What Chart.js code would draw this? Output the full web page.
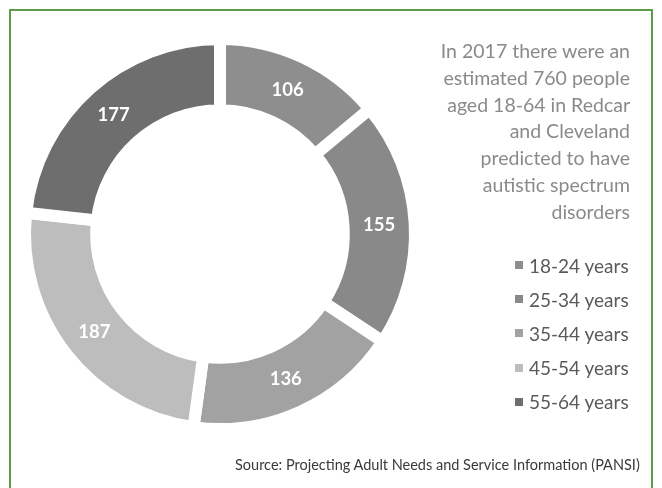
<!DOCTYPE html>
<html>
<head>
<meta charset="utf-8">
<script src="https://cdn.jsdelivr.net/npm/chart.js@4/dist/chart.umd.min.js"></script>
<style>
  html, body { margin: 0; padding: 0; background: #fff; }
  #wrap { position: relative; width: 662px; height: 488px; overflow: hidden; font-family: Lato, "Open Sans", sans-serif; }
  #frame { position: absolute; left: 9px; top: 9px; width: 644px; height: 482px; border: 2px solid #5e9c4c; box-sizing: border-box; }
  #chart { position: absolute; left: 0; top: 0; }
  #note { position: absolute; right: 32px; top: 38px; text-align: right; color: #8a8a8a; font-size: 19.5px; line-height: 26.8px; }
  #legend { position: absolute; left: 515px; top: 248px; }
  .row { height: 34.2px; display: flex; align-items: center; font-size: 19px; color: #5a5a5a; }
  .sw { width: 8px; height: 8px; margin-right: 6px; }
  #source { position: absolute; left: 235px; top: 456px; font-size: 14.5px; color: #3a3a3a; }
</style>
</head>
<body>
<div id="wrap">
  <div id="frame"></div>
  <canvas id="chart" width="662" height="488"></canvas>
  <div id="note">In 2017 there were an<br>estimated 760 people<br>aged 18-64 in Redcar<br>and Cleveland<br>predicted to have<br>autistic spectrum<br>disorders</div>
  <div id="legend"></div>
  <div id="source">Source: Projecting Adult Needs and Service Information (PANSI)</div>
</div>
<script>
// Age bands and estimated counts, Redcar and Cleveland, 2017
const ageBands = ['18-24 years', '25-34 years', '35-44 years', '45-54 years', '55-64 years'];
const peopleCounts = [106, 155, 136, 187, 177];
const bandColors = ['#8e8e8e', '#898989', '#a2a2a2', '#bdbdbd', '#6e6e6e'];

// Legend built from the same arrays
const legendEl = document.getElementById('legend');
ageBands.forEach((band, i) => {
  const row = document.createElement('div');
  row.className = 'row';
  const sw = document.createElement('span');
  sw.className = 'sw';
  sw.style.background = bandColors[i];
  const label = document.createElement('span');
  label.textContent = band;
  row.appendChild(sw);
  row.appendChild(label);
  legendEl.appendChild(row);
});

// Writes each value in the middle of its ring segment
const sliceLabels = {
  id: 'sliceLabels',
  afterDatasetsDraw(chart) {
    const { ctx } = chart;
    const meta = chart.getDatasetMeta(0);
    ctx.save();
    ctx.fillStyle = '#ffffff';
    ctx.font = 'bold 18.5px Lato, "Open Sans", sans-serif';
    ctx.textAlign = 'center';
    ctx.textBaseline = 'middle';
    meta.data.forEach((arc, i) => {
      const p = arc.tooltipPosition();
      ctx.fillText(String(chart.data.datasets[0].data[i]), p.x, p.y);
    });
    ctx.restore();
  }
};

// White borders form the even gaps between the ring segments
new Chart(document.getElementById('chart'), {
  type: 'doughnut',
  data: {
    labels: ageBands,
    datasets: [{
      data: peopleCounts,
      backgroundColor: bandColors,
      borderColor: '#ffffff',
      borderWidth: 12,
      borderJoinStyle: 'miter',
      radius: 195,
      cutout: 120
    }]
  },
  options: {
    responsive: false,
    animation: false,
    layout: { padding: { left: 25, right: 247, top: 39, bottom: 59 } },
    plugins: {
      legend: { display: false },
      tooltip: { enabled: false }
    }
  },
  plugins: [sliceLabels]
});
</script>
</body>
</html>
